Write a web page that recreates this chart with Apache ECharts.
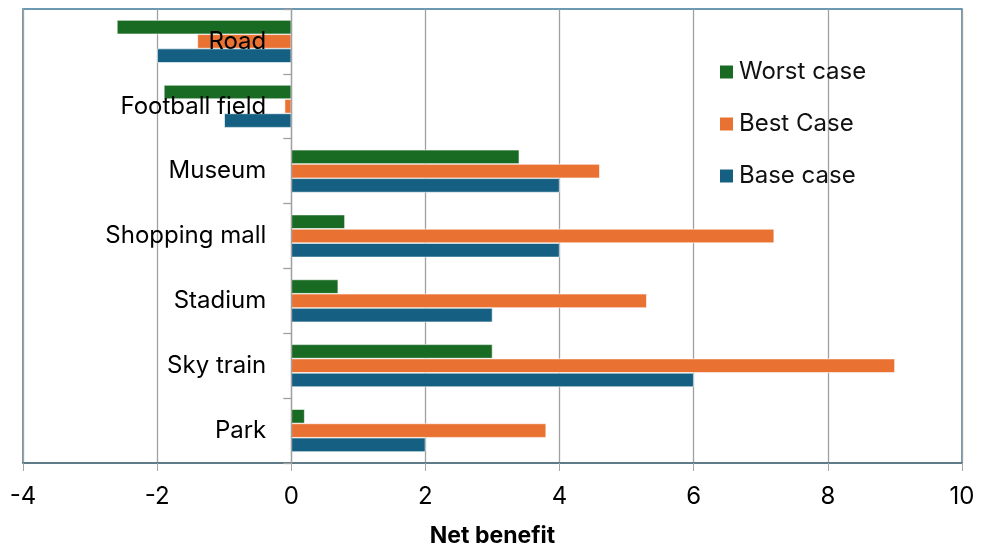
<!DOCTYPE html>
<html>
<head>
<meta charset="utf-8">
<script src="https://cdn.jsdelivr.net/npm/echarts@6/dist/echarts.min.js"></script>
<style>
  html, body { margin: 0; padding: 0; background: #fff; }
  #chart { width: 982px; height: 550px; }
</style>
</head>
<body>
<div id="chart"></div>
<script>
// Projects, listed top to bottom
const categories = ['Road', 'Football field', 'Museum', 'Shopping mall', 'Stadium', 'Sky train', 'Park'];

// Net benefit per scenario
const worstCase = [-2.6, -1.9, 3.4, 0.8, 0.7, 3.0, 0.2];
const bestCase  = [-1.4, -0.1, 4.6, 7.2, 5.3, 9.0, 3.8];
const baseCase  = [-2.0, -1.0, 4.0, 4.0, 3.0, 6.0, 2.0];

const xTicks = { min: -4, max: 10, interval: 2 };

const FONT = 'Inter, "Noto Sans", sans-serif';
const GRID_LEFT = 23;
const chart = echarts.init(document.getElementById('chart'), null, { renderer: 'canvas' });

const barStyle = (color) => ({ color: color, borderColor: '#ffffff', borderWidth: 0.6 });

chart.setOption({
  animation: false,
  textStyle: { fontFamily: FONT },
  grid: {
    left: GRID_LEFT, right: 20, top: 9, bottom: 87,
    containLabel: false,
    outerBoundsMode: 'none',
    show: true, borderColor: '#3d7797', borderWidth: 1.5, backgroundColor: 'transparent'
  },
  legend: {
    orient: 'vertical',
    left: 713, top: 55,
    itemWidth: 15, itemHeight: 15, itemGap: 28,
    icon: 'rect',
    textStyle: { fontSize: 24, color: '#111', fontFamily: FONT, lineHeight: 24 },
    data: ['Worst case', 'Best Case', 'Base case']
  },
  xAxis: {
    type: 'value',
    min: xTicks.min, max: xTicks.max, interval: xTicks.interval,
    name: 'Net benefit',
    nameLocation: 'middle',
    nameGap: 62,
    nameTextStyle: { fontSize: 23, fontWeight: 'bold', color: '#000', fontFamily: FONT },
    axisLine: { show: true, lineStyle: { color: '#5f7b87', width: 2 } },
    axisTick: { show: true, length: 8, lineStyle: { color: '#a6a6a6' } },
    axisLabel: { fontSize: 24, color: '#000', margin: 22, fontFamily: FONT },
    splitLine: { show: true, lineStyle: { color: '#a0a0a0', width: 1.3 } }
  },
  yAxis: {
    type: 'category',
    data: categories,
    inverse: true,
    z: 10,
    axisLine: { show: true, onZero: false, lineStyle: { color: '#a0a0a0', width: 1.3 } },
    axisTick: { show: true, length: 8, lineStyle: { color: '#a0a0a0', width: 1.3 } },
    axisLabel: { fontSize: 24, color: '#000', margin: 25, fontFamily: FONT },
    splitLine: { show: false }
  },
  series: [
    { name: 'Worst case', type: 'bar', data: worstCase, itemStyle: barStyle('#196b24'), barGap: '0%', barCategoryGap: '34%' },
    { name: 'Best Case',  type: 'bar', data: bestCase,  itemStyle: barStyle('#e97132'), barGap: '0%', barCategoryGap: '34%' },
    { name: 'Base case',  type: 'bar', data: baseCase,  itemStyle: barStyle('#156082'), barGap: '0%', barCategoryGap: '34%' }
  ]
});

// Put the category axis (line, ticks and labels) on the x = 0 position
const zeroX = chart.convertToPixel({ xAxisIndex: 0 }, 0);
chart.setOption({ yAxis: { offset: -(zeroX - GRID_LEFT) } });
</script>
</body>
</html>
